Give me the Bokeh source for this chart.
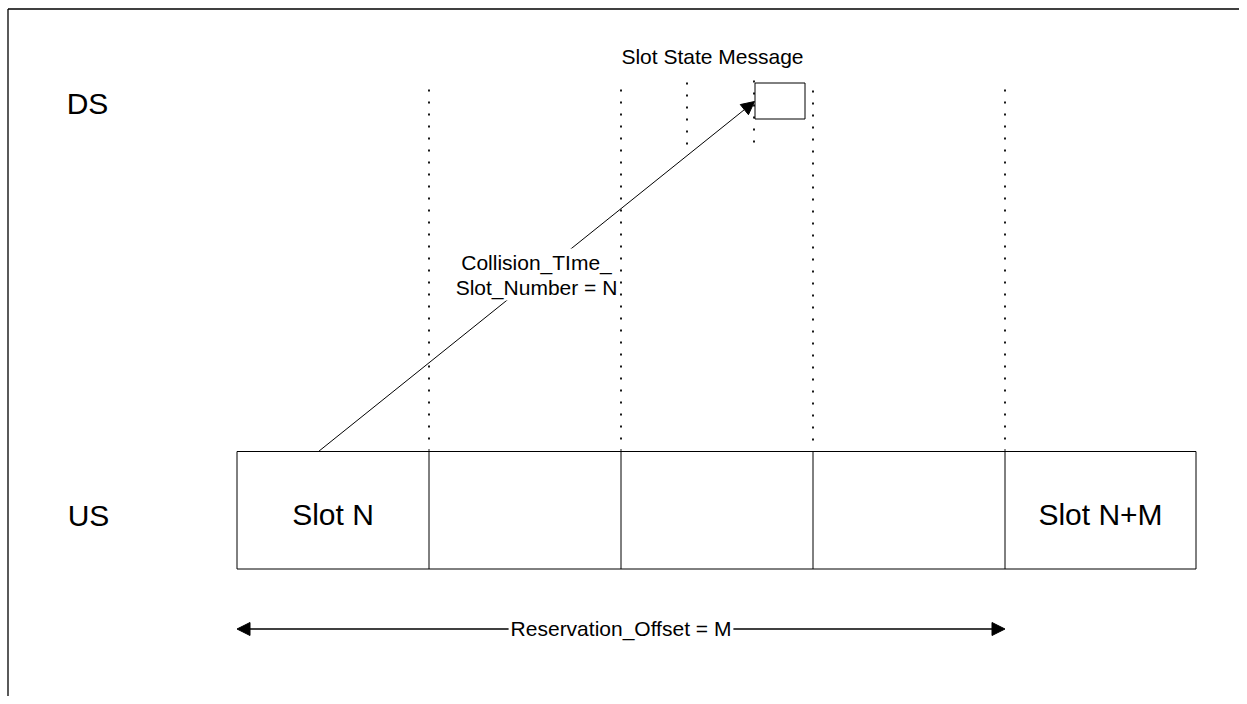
from bokeh.plotting import figure
from bokeh.models import Range1d, Arrow, NormalHead
from bokeh.core.properties import value
from bokeh.embed import file_html
from bokeh.resources import INLINE

FONT = value("Liberation Sans")

# ---- diagram data (page pixel coordinates) ----
slot_edges = [236.5, 428.5, 620.5, 812.5, 1004.5, 1195.5]
slot_names = ["Slot N", "", "", "", "Slot N+M"]
us_top = 451.0
us_bottom = 568.5

dotted_x = [428.5, 620.5, 686.5, 753.5, 812.5, 1004.5]
dotted_top = [89, 89, 82, 80, 90, 89]
dotted_bottom = [450, 450, 152, 152, 450, 450]

msg_left, msg_right, msg_top, msg_bottom = 754.5, 804.5, 82.5, 118.5

lane_labels = ["DS", "US"]
lane_x = [87, 88]
lane_y = [103, 515]
slot_label_y = 514

collision_from = (318, 451)
collision_to = (754, 101)
collision_text = ["Collision_TIme_", "Slot_Number = N"]
collision_text_x = 536
collision_text_y = [261.5, 286.5]

offset_from = 236.5
offset_to = 1004.5
offset_y = 628.5
offset_text = "Reservation_Offset = M"

msg_text = "Slot State Message"
msg_text_y = 56

W, H = 1239, 696
p = figure(width=W, height=H, output_backend="svg", toolbar_location=None,
           x_range=Range1d(0, W), y_range=Range1d(H, 0),
           x_axis_location=None, y_axis_location=None, min_border=0,
           outline_line_color=None, background_fill_color="white",
           border_fill_color="white")
p.grid.visible = False

# page frame (top and left edges visible)
p.segment(x0=[7.5, 7.5], y0=[8.5, 8.5], x1=[W, 7.5], y1=[8.5, H],
          line_color="black", line_width=1.3)

# US slot row
p.quad(left=[slot_edges[0]], right=[slot_edges[-1]], top=[us_top], bottom=[us_bottom],
       fill_color="white", line_color="black", line_width=1)
p.segment(x0=slot_edges[1:-1], y0=[us_top] * 4, x1=slot_edges[1:-1], y1=[us_bottom] * 4,
          line_color="black", line_width=1)
centers = [(a + b) / 2 for a, b in zip(slot_edges[:-1], slot_edges[1:])]
p.text(x=centers, y=[slot_label_y] * 5, text=slot_names, text_font=FONT,
       text_font_size="30px", text_align="center", text_baseline="alphabetic",
       text_color="black")

# dotted slot markers
p.segment(x0=dotted_x, y0=dotted_top, x1=dotted_x, y1=dotted_bottom,
          line_color="black", line_width=1.8, line_dash=value([2, 10]))

# slot state message box
p.quad(left=[msg_left], right=[msg_right], top=[msg_top], bottom=[msg_bottom],
       fill_color="white", line_color="black", line_width=1)
p.text(x=[712], y=[msg_text_y], text=[msg_text], text_font=FONT,
       text_font_size="21px", text_align="center", text_baseline="alphabetic",
       text_color="black")

# lane labels
p.text(x=lane_x, y=lane_y, text=lane_labels, text_font=FONT,
       text_font_size="30px", text_align="center", text_baseline="alphabetic",
       text_color="black")

# collision arrow
p.add_layout(Arrow(end=NormalHead(size=13, fill_color="black", line_color="black"),
                   x_start=collision_from[0], y_start=collision_from[1],
                   x_end=collision_to[0], y_end=collision_to[1],
                   line_color="black", line_width=1))
# second line first, so the first line's box does not hide its underscores
for i in (1, 0):
    r = p.text(x=[collision_text_x], y=[collision_text_y[i]], text=[collision_text[i]],
               text_font=FONT, text_font_size="21px", text_align="center",
               text_baseline="alphabetic", text_color="black",
               background_fill_color="white", padding=2)
    r.level = "overlay"

# reservation offset arrow
p.add_layout(Arrow(start=NormalHead(size=13, fill_color="black", line_color="black"),
                   end=NormalHead(size=13, fill_color="black", line_color="black"),
                   x_start=offset_from, y_start=offset_y, x_end=offset_to, y_end=offset_y,
                   line_color="black", line_width=1.5))
r2 = p.text(x=[(offset_from + offset_to) / 2], y=[offset_y - 1],
            text=[offset_text], text_font=FONT, text_font_size="21px",
            text_align="center", text_baseline="alphabetic", text_color="black",
            background_fill_color="white", padding=2)
r2.level = "overlay"

open("out.html", "w").write(file_html(p, INLINE))
